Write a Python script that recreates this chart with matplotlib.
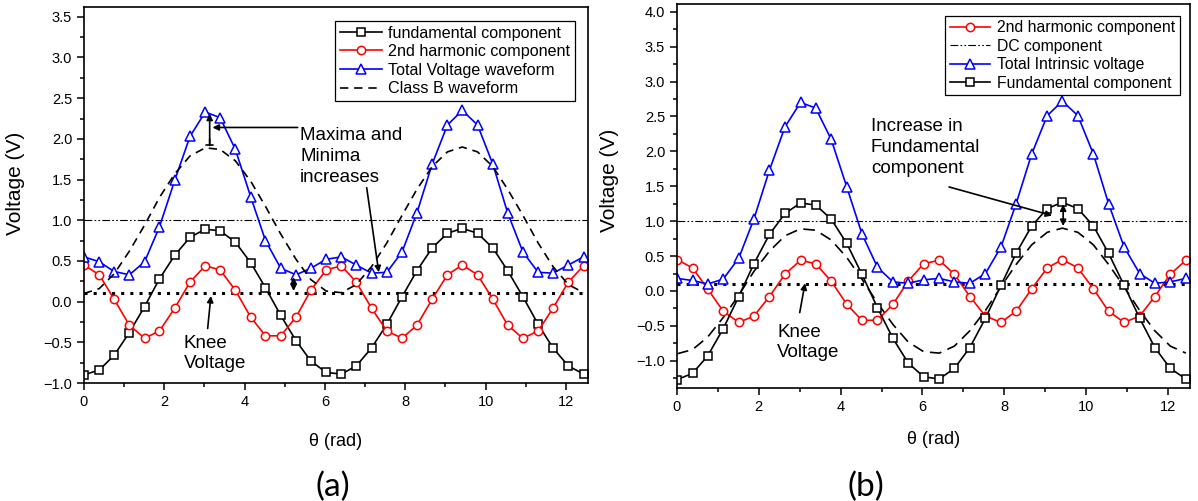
import matplotlib.pyplot as plt
from matplotlib.ticker import MultipleLocator

plt.rcParams['font.family'] = ['Liberation Sans', 'DejaVu Sans']

# sample angles (rad), shared by both panels
theta = [0.00, 0.38, 0.75, 1.13, 1.51, 1.88, 2.26, 2.64, 3.02, 3.39,
         3.77, 4.15, 4.52, 4.90, 5.28, 5.65, 6.03, 6.41, 6.78, 7.16,
         7.54, 7.92, 8.29, 8.67, 9.05, 9.42, 9.80, 10.18, 10.55, 10.93,
         11.31, 11.68, 12.06, 12.44]

# panel (a)
fund_a = [-0.90, -0.84, -0.66, -0.38, -0.06, 0.28, 0.57, 0.79, 0.89, 0.87,
          0.73, 0.48, 0.17, -0.17, -0.48, -0.73, -0.87, -0.89, -0.79, -0.57,
          -0.28, 0.06, 0.38, 0.66, 0.84, 0.90, 0.84, 0.66, 0.38, 0.06,
          -0.28, -0.57, -0.79, -0.89]
harm_a = [0.45, 0.33, 0.03, -0.29, -0.45, -0.36, -0.08, 0.24, 0.44, 0.39,
          0.14, -0.19, -0.42, -0.42, -0.19, 0.14, 0.39, 0.44, 0.24, -0.08,
          -0.36, -0.45, -0.29, 0.03, 0.33, 0.45, 0.33, 0.03, -0.29, -0.45,
          -0.36, -0.08, 0.24, 0.44]
total_a = [0.55, 0.49, 0.37, 0.33, 0.49, 0.92, 1.49, 2.03, 2.33, 2.26,
           1.87, 1.29, 0.75, 0.41, 0.33, 0.41, 0.52, 0.55, 0.45, 0.35,
           0.36, 0.61, 1.09, 1.69, 2.17, 2.35, 2.17, 1.69, 1.09, 0.61,
           0.36, 0.35, 0.45, 0.55]
classb_a = [0.10, 0.16, 0.34, 0.62, 0.94, 1.28, 1.57, 1.79, 1.89, 1.87,
            1.73, 1.48, 1.17, 0.83, 0.52, 0.27, 0.13, 0.11, 0.21, 0.43,
            0.72, 1.06, 1.38, 1.66, 1.84, 1.90, 1.84, 1.66, 1.38, 1.06,
            0.72, 0.43, 0.21, 0.11]

# panel (b)
fund_b = [-1.27, -1.18, -0.93, -0.54, -0.08, 0.39, 0.81, 1.11, 1.26, 1.23,
          1.03, 0.68, 0.24, -0.24, -0.68, -1.03, -1.23, -1.26, -1.11, -0.81,
          -0.39, 0.08, 0.54, 0.93, 1.18, 1.27, 1.18, 0.93, 0.54, 0.08,
          -0.39, -0.81, -1.11, -1.26]
harm_b = harm_a
total_b = [0.18, 0.15, 0.10, 0.17, 0.47, 1.03, 1.73, 2.35, 2.70, 2.62,
           2.17, 1.49, 0.82, 0.34, 0.13, 0.11, 0.16, 0.18, 0.13, 0.11,
           0.25, 0.63, 1.25, 1.96, 2.51, 2.72, 2.51, 1.96, 1.25, 0.63,
           0.25, 0.11, 0.13, 0.18]
old_fund_b = fund_a

dc_level = 1.0
knee_level = 0.1

RED = '#ff0000'
BLUE = '#0000ff'
DASHDOTDOT = (0, (7, 2, 1.5, 2, 1.5, 2))
DASHED = (0, (5, 3.5))
DOTTED = (0, (1, 2))


def style_axes(ax, xmax, ymin, ymax, ymajor):
    ax.set_xlim(0, xmax)
    ax.set_ylim(ymin, ymax)
    ax.xaxis.set_major_locator(MultipleLocator(2))
    ax.xaxis.set_minor_locator(MultipleLocator(1))
    ax.yaxis.set_major_locator(MultipleLocator(ymajor))
    ax.yaxis.set_minor_locator(MultipleLocator(ymajor / 2))
    ax.tick_params(which='both', direction='out', top=False, right=False,
                   labelsize=10.5, width=1.1)
    ax.tick_params(which='major', length=5)
    ax.tick_params(which='minor', length=3)
    for s in ax.spines.values():
        s.set_linewidth(1.2)
    ax.set_xlabel('θ (rad)', fontsize=13)
    ax.set_ylabel('Voltage (V)', fontsize=15)


def marked(ax, y, color, marker, ms, label):
    ax.plot(theta, y, color=color, lw=1.2, marker=marker, ms=ms, mew=1.1,
            mfc='white', mec=color, label=label)


def arrow(ax, start, end, style='-|>'):
    ax.annotate('', xy=end, xytext=start,
                arrowprops=dict(arrowstyle=style, color='k', lw=1.2,
                                mutation_scale=9, shrinkA=0, shrinkB=0))


fig = plt.figure(figsize=(11.98, 5.01), dpi=100)
ax1 = fig.add_axes([0.0701, 0.2355, 0.4207, 0.7505])
ax2 = fig.add_axes([0.5651, 0.2255, 0.4282, 0.7665])

# ---- (a)
ax1.axhline(dc_level, color='k', lw=0.8, ls=DASHDOTDOT)
ax1.axhline(knee_level, color='k', lw=2.2, ls=DOTTED)
marked(ax1, fund_a, 'k', 's', 5.5, 'fundamental component')
marked(ax1, harm_a, RED, 'o', 6, '2nd harmonic component')
marked(ax1, total_a, BLUE, '^', 7, 'Total Voltage waveform')
ax1.plot(theta, classb_a, color='k', lw=1.2, ls=DASHED, label='Class B waveform')
style_axes(ax1, 12.55, -1.0, 3.62, 0.5)
ax1.xaxis.set_label_coords(0.5, -0.133)
ax1.yaxis.set_label_coords(-0.118, 0.53)
ax1.legend(loc='upper right', bbox_to_anchor=(0.99, 0.985), fontsize=11.6,
           frameon=True, fancybox=False, edgecolor='k', framealpha=1,
           borderpad=0.3, labelspacing=0.22, handlelength=2.6,
           handletextpad=0.4).get_frame().set_linewidth(0.9)

ax1.text(5.38, 1.78, 'Maxima and\nMinima\nincreases', fontsize=13.5,
         ha='left', va='center', linespacing=1.3)
arrow(ax1, (5.32, 2.14), (3.2, 2.14))
arrow(ax1, (3.13, 1.92), (3.13, 2.31))
arrow(ax1, (3.13, 1.92), (3.13, 2.0), '|-|, widthA=0.3, widthB=0')
arrow(ax1, (7.04, 1.40), (7.34, 0.36))
arrow(ax1, (5.22, 0.30), (5.22, 0.13), '<|-|>')
ax1.text(2.49, -0.64, 'Knee\nVoltage', fontsize=13.5, ha='left', va='center',
         linespacing=1.25)
arrow(ax1, (3.08, -0.33), (3.16, 0.07))

# ---- (b)
ax2.axhline(dc_level, color='k', lw=0.8, ls=DASHDOTDOT, label='DC component')
ax2.axhline(knee_level, color='k', lw=2.2, ls=DOTTED)
ax2.plot(theta, old_fund_b, color='k', lw=1.2, ls=(0, (7, 4)))
marked(ax2, harm_b, RED, 'o', 6, '2nd harmonic component')
marked(ax2, total_b, BLUE, '^', 7, 'Total Intrinsic voltage')
marked(ax2, fund_b, 'k', 's', 5.5, 'Fundamental component')
style_axes(ax2, 12.54, -1.39, 4.11, 0.5)
ax2.xaxis.set_label_coords(0.5, -0.112)
ax2.yaxis.set_label_coords(-0.114, 0.54)
h, l = ax2.get_legend_handles_labels()
order = [1, 0, 2, 3]
ax2.legend([h[i] for i in order], [l[i] for i in order], loc='upper right',
           bbox_to_anchor=(0.995, 0.99), fontsize=11.3, frameon=True,
           fancybox=False, edgecolor='k', framealpha=1, borderpad=0.3,
           labelspacing=0.22, handlelength=2.6,
           handletextpad=0.4).get_frame().set_linewidth(0.9)

ax2.text(4.74, 2.05, 'Increase in\nFundamental\ncomponent', fontsize=13.5,
         ha='left', va='center', linespacing=1.3)
arrow(ax2, (6.65, 1.49), (9.17, 1.08))
arrow(ax2, (9.44, 1.24), (9.44, 0.93), '<|-|>')
ax2.text(2.45, -0.74, 'Knee\nVoltage', fontsize=13.5, ha='left', va='center',
         linespacing=1.25)
arrow(ax2, (3.0, -0.31), (3.13, 0.11))

fig.text(0.278, 0.028, '(a)', fontsize=24, family=['Lato', 'DejaVu Sans'],
         ha='center', va='center')
fig.text(0.723, 0.028, '(b)', fontsize=24, family=['Lato', 'DejaVu Sans'],
         ha='center', va='center')

fig.savefig('out.png', dpi=100)
